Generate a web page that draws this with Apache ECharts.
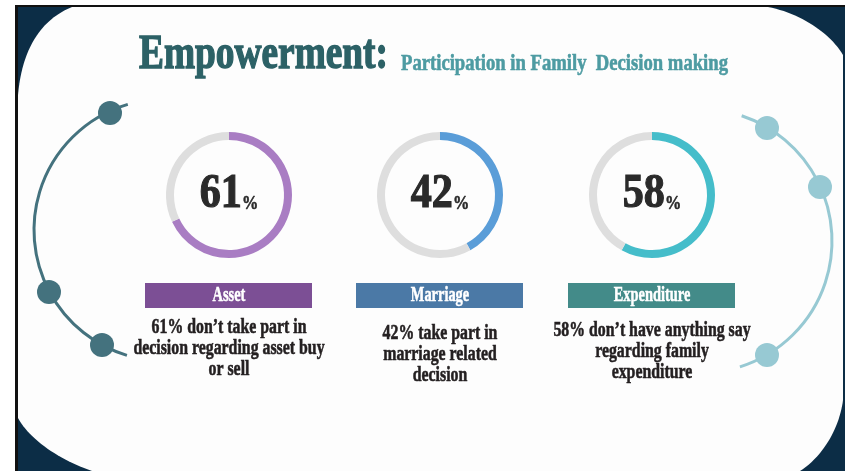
<!DOCTYPE html>
<html>
<head>
<meta charset="utf-8">
<script src="https://cdn.jsdelivr.net/npm/echarts@6/dist/echarts.min.js"></script>
<style>
  html, body { margin: 0; padding: 0; background: #ffffff; }
  #chart { width: 845px; height: 471px; }
</style>
</head>
<body>
<div id="chart"></div>
<script>
// ---------------- data ----------------
const titleText = 'Empowerment:';
const subtitleText = 'Participation in Family  Decision making';
const categories = ['Asset', 'Marriage', 'Expenditure'];
const percentLabels = [61, 42, 58];          // numbers printed in the rings
const arcShares = [68, 42, 58];              // share of each ring drawn in colour, as it appears
const descriptions = [
  ['61% don\u2019t take part in', 'decision regarding asset buy', 'or sell'],
  ['42% take part in', 'marriage related', 'decision'],
  ['58% don\u2019t have anything say', 'regarding family', 'expenditure']
];

// ---------------- styling / layout ----------------
const ringColors = ['#a97dc3', '#5a9dd8', '#45bdca'];
const ringRest = '#dedede';
const barColors = ['#7c4f95', '#4b79a6', '#438b89'];
const navy = '#0c2d46';
const colX = [229, 440, 652];
const ringY = 195;
const descTop = [327, 333, 330];
const serif = '"Liberation Serif", "Times New Roman", serif';

const mctx = document.createElement('canvas').getContext('2d');
function measure(text, font) { mctx.font = font; return mctx.measureText(text).width; }

// outline of the white panel: straight segments and cubic corners
function cubic(p0, p1, p2, p3, n) {
  const pts = [];
  for (let k = 0; k <= n; k++) {
    const t = k / n, u = 1 - t;
    pts.push([
      u * u * u * p0[0] + 3 * u * u * t * p1[0] + 3 * u * t * t * p2[0] + t * t * t * p3[0],
      u * u * u * p0[1] + 3 * u * u * t * p1[1] + 3 * u * t * t * p2[1] + t * t * t * p3[1]
    ]);
  }
  return pts;
}
const panel = [].concat(
  cubic([18, 95], [22, 50], [40, 20], [72, 7], 24),
  cubic([768, 7], [800, 13], [830, 33], [843, 55], 24),
  cubic([843, 400], [840, 425], [825, 455], [800, 471], 24),
  cubic([92, 471], [60, 460], [30, 440], [18, 418], 24)
);

const chart = echarts.init(document.getElementById('chart'), null, { renderer: 'canvas' });

const elements = [];
elements.push({ type: 'rect', z: 0, shape: { x: 15, y: 5, width: 830, height: 466 }, style: { fill: '#111111' } });
elements.push({ type: 'rect', z: 0, shape: { x: 18, y: 7, width: 827, height: 464 }, style: { fill: navy } });
elements.push({ type: 'polygon', z: 0, shape: { points: panel }, style: { fill: '#fdfdfd' } });

// decorative arcs
elements.push({ type: 'arc', z: 1, shape: { cx: 165, cy: 230, r: 131, startAngle: 106.9 * Math.PI / 180, endAngle: 253.5 * Math.PI / 180, clockwise: true },
  style: { stroke: '#44727e', lineWidth: 3, fill: null } });
[[110, 113], [49, 292], [102, 345]].forEach(function (p) {
  elements.push({ type: 'circle', z: 1, shape: { cx: p[0], cy: p[1], r: 12 }, style: { fill: '#44727e' } });
});
elements.push({ type: 'arc', z: 1, shape: { cx: 700, cy: 241, r: 132, startAngle: -71.6 * Math.PI / 180, endAngle: 72.4 * Math.PI / 180, clockwise: true },
  style: { stroke: '#97c9d3', lineWidth: 3, fill: null } });
[[767, 128], [820, 187], [767, 355]].forEach(function (p) {
  elements.push({ type: 'circle', z: 1, shape: { cx: p[0], cy: p[1], r: 12 }, style: { fill: '#97c9d3' } });
});

// title
const titleFont = 'bold 48px ' + serif;
elements.push({ type: 'text', z: 10, x: 139, y: 56, scaleX: 249 / measure(titleText, titleFont),
  style: { text: titleText, font: titleFont, fill: '#2c6166', stroke: '#2c6166', lineWidth: 1.4, align: 'left', verticalAlign: 'middle' } });
const subFont = 'bold 23px ' + serif;
elements.push({ type: 'text', z: 10, x: 401, y: 64, scaleX: 327 / measure(subtitleText, subFont),
  style: { text: subtitleText, font: subFont, fill: '#4d9ba2', stroke: '#4d9ba2', lineWidth: 0.6, align: 'left', verticalAlign: 'middle' } });

const cond = 0.72;
categories.forEach(function (cat, i) {
  const cx = colX[i];
  const nFont = 'bold 49px ' + serif, pFont = 'bold 19px ' + serif;
  const nTxt = String(percentLabels[i]);
  const wN = measure(nTxt, nFont) * 0.86, wP = measure('%', pFont) * 0.86;
  const x0 = cx - (wN + wP) / 2;
  elements.push({ type: 'text', z: 10, x: x0, y: 194, scaleX: 0.86,
    style: { text: nTxt, font: nFont, fill: '#2a2a2a', stroke: '#2a2a2a', lineWidth: 1.2, align: 'left', verticalAlign: 'middle' } });
  elements.push({ type: 'text', z: 10, x: x0 + wN, y: 204, scaleX: 0.86,
    style: { text: '%', font: pFont, fill: '#2a2a2a', stroke: '#2a2a2a', lineWidth: 0.5, align: 'left', verticalAlign: 'middle' } });
  elements.push({ type: 'rect', z: 5, shape: { x: cx - 84, y: 283, width: 167, height: 25 }, style: { fill: barColors[i] } });
  elements.push({ type: 'text', z: 10, x: cx, y: 296, scaleX: 0.72,
    style: { text: cat, font: 'bold 20px ' + serif, fill: '#ffffff', stroke: '#ffffff', lineWidth: 0.5, align: 'center', verticalAlign: 'middle' } });
  descriptions[i].forEach(function (line, k) {
    elements.push({ type: 'text', z: 10, x: cx, y: descTop[i] + k * 21, scaleX: cond,
      style: { text: line, font: 'bold 22px ' + serif, fill: '#231f20', stroke: '#231f20', lineWidth: 0.6, align: 'center', verticalAlign: 'middle' } });
  });
});

const series = categories.map(function (cat, i) {
  return {
    type: 'pie', name: cat, silent: true, animation: false,
    center: [colX[i], ringY], radius: [55, 63],
    startAngle: 90, clockwise: true,
    label: { show: false }, labelLine: { show: false },
    emphasis: { disabled: true },
    data: [
      { name: cat, value: arcShares[i], itemStyle: { color: ringColors[i] } },
      { name: 'rest', value: 100 - arcShares[i], itemStyle: { color: ringRest } }
    ]
  };
});

chart.setOption({
  animation: false,
  backgroundColor: '#ffffff',
  graphic: { elements: elements },
  series: series
});
</script>
</body>
</html>
